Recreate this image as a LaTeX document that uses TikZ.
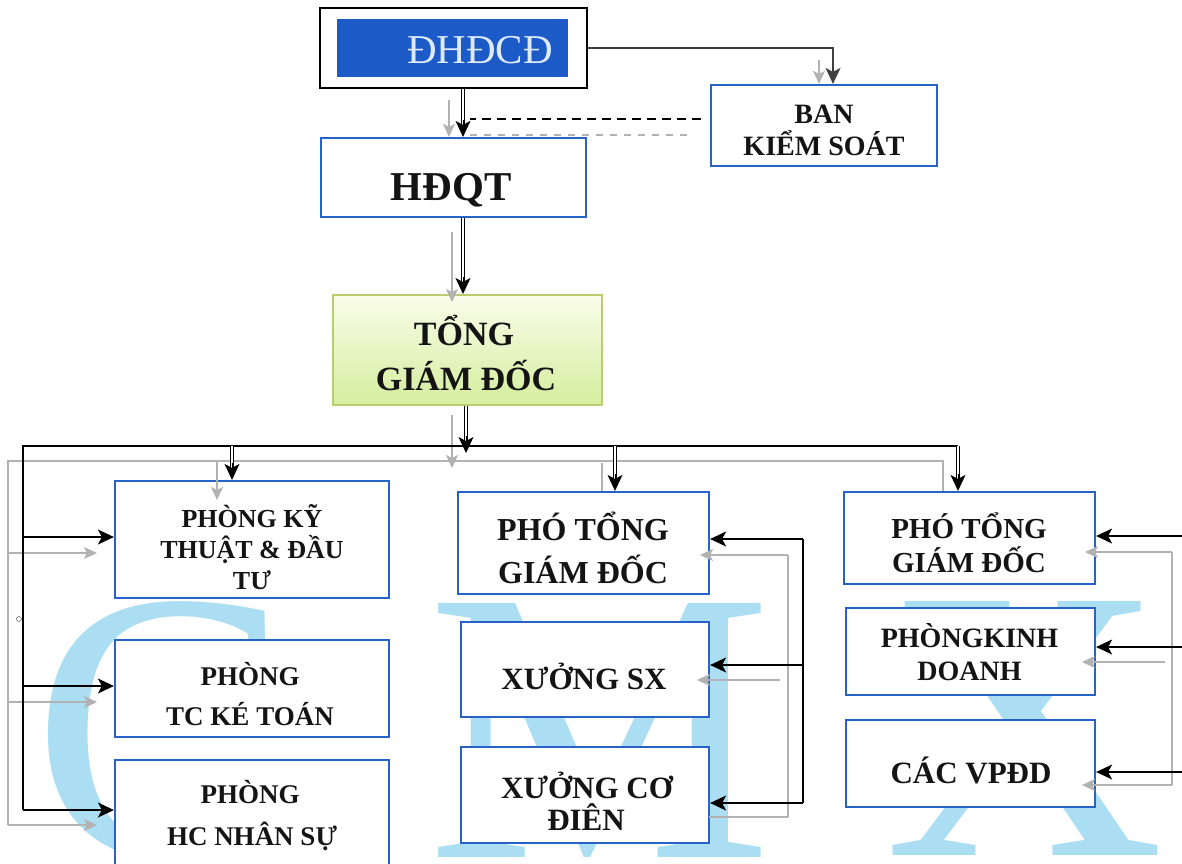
\documentclass[tikz,border=0pt]{standalone}
\usepackage{fontspec}
\setmainfont{Liberation Serif}
\usetikzlibrary{arrows.meta}
\definecolor{boxblue}{RGB}{38,98,200}
\definecolor{fillblue}{RGB}{28,90,200}
\definecolor{wmblue}{RGB}{172,222,243}
\definecolor{linegray}{RGB}{178,178,178}
\definecolor{tgdborder}{RGB}{185,205,110}
\definecolor{tgdtop}{RGB}{250,252,234}
\definecolor{tgdbot}{RGB}{212,238,158}
\definecolor{lighttext}{RGB}{222,234,250}
\newcommand\dblarr[2]{\draw[dbl, shorten >=10pt] (#1) -- (#2); \draw[dbltip] ([yshift=17pt]#2) -- (#2);}
\begin{document}
\begin{tikzpicture}[x=1pt,y=-1pt,
  box/.style={draw=boxblue, line width=2.2pt, fill=white, inner sep=0pt},
  txt/.style={anchor=base, inner sep=0pt, text=black!92},
  fs/.style={font=\fontsize{#1}{#1}\bfseries\selectfont},
  wm/.style={anchor=base, inner sep=0pt, text=wmblue, font=\fontsize{388}{388}\selectfont},
  blk/.style={draw=black, line width=1.6pt},
  blkarrow/.style={blk, -{Stealth[length=16pt,width=15pt,inset=4pt]}},
  dbl/.style={draw=black, double=white, double distance=2.6pt, line width=1.1pt},
  dbltip/.style={draw=black, line width=1pt, -{Stealth[length=16pt,width=15pt,inset=4pt]}},
  gry/.style={draw=linegray, line width=1.2pt},
  gryarrow/.style={gry, -{Stealth[length=13pt,width=12pt,inset=3pt]}},
]
\useasboundingbox (0,0) rectangle (1182,863);

% watermark
\node[wm] (wmC) at (162,858) {C};
\node[wm] (wmM) at (600,857) {M};
\node[wm] (wmX) at (1025,855) {X};

% top boxes
\node[box, draw=black, minimum width=267pt, minimum height=80pt] (dhdcd) at (453.5,48) {};
\node[fill=fillblue, inner sep=0pt, minimum width=231pt, minimum height=58pt] (dhdcdin) at (452.5,48) {};
\node[txt, text=lighttext, font=\fontsize{41}{41}\selectfont] (dhdcdt) at (480,63) {ĐHĐCĐ};

\node[box, minimum width=226pt, minimum height=81pt] (bks) at (824,125.5) {};
\node[txt, fs=28] (bks1) at (824,123) {BAN};
\node[txt, fs=28] (bks2) at (824,155) {KIỂM SOÁT};

\node[box, minimum width=265pt, minimum height=79pt] (hdqt) at (453.5,177.5) {};
\node[txt, fs=41] (hdqtt) at (451,200) {HĐQT};

\node[draw=tgdborder, line width=2pt, top color=tgdtop, bottom color=tgdbot, inner sep=0pt, minimum width=269pt, minimum height=110pt] (tgd) at (467.5,350) {};
\node[txt, fs=34] (tgd1) at (464,345) {TỔNG};
\node[txt, fs=34] (tgd2) at (466,390) {GIÁM ĐỐC};

% left column
\node[box, minimum width=274pt, minimum height=117pt] (kt) at (252,539.5) {};
\node[txt, fs=26] (kt1) at (252,527) {PHÒNG KỸ};
\node[txt, fs=26] (kt2) at (252,558) {THUẬT \& ĐẦU};
\node[txt, fs=26] (kt3) at (252,589) {TƯ};

\node[box, minimum width=274pt, minimum height=97pt] (tc) at (252,688.5) {};
\node[txt, fs=27] (tc1) at (250,685) {PHÒNG};
\node[txt, fs=27] (tc2) at (250,725) {TC KÉ TOÁN};

\node[box, minimum width=274pt, minimum height=130pt] (hc) at (252,825) {};
\node[txt, fs=27] (hc1) at (250,803) {PHÒNG};
\node[txt, fs=27] (hc2) at (252,845) {HC NHÂN SỰ};

% middle column
\node[box, minimum width=251pt, minimum height=102pt] (pt1) at (583.5,543) {};
\node[txt, fs=32] (pt1a) at (583,540) {PHÓ TỔNG};
\node[txt, fs=32] (pt1b) at (583,583) {GIÁM ĐỐC};

\node[box, minimum width=248pt, minimum height=95pt] (sx) at (585,669.5) {};
\node[txt, fs=31] (sxt) at (584,689) {XƯỞNG SX};

\node[box, minimum width=248pt, minimum height=96pt] (cd) at (585,795) {};
\node[txt, fs=31] (cd1) at (587,798) {XƯỞNG CƠ};
\node[txt, fs=31] (cd2) at (586,830) {ĐIÊN};

% right column
\node[box, minimum width=251pt, minimum height=92pt] (pt2) at (969.5,538) {};
\node[txt, fs=29] (pt2a) at (969,538) {PHÓ TỔNG};
\node[txt, fs=29] (pt2b) at (969,572) {GIÁM ĐỐC};

\node[box, minimum width=249pt, minimum height=87pt] (kd) at (970.5,651.5) {};
\node[txt, fs=28] (kd1) at (969.5,647) {PHÒNGKINH};
\node[txt, fs=28] (kd2) at (969.5,680) {DOANH};

\node[box, minimum width=249pt, minimum height=87pt] (vp) at (970.5,763.5) {};
\node[txt, fs=31] (vpt) at (971,783) {CÁC VPĐD};

% ---- gray shadow connectors
\draw[gryarrow] (819,60) -- ([xshift=-5pt]bks.north);
\draw[gryarrow] (449,100) -- ([xshift=-4.5pt]hdqt.north);
\draw[gryarrow] (452,232) -- (452,302);
\draw[gryarrow] (452,415) -- (452,468);
\draw[gry, dashed, dash pattern=on 7pt off 7pt] (687,135) -- (467,135);
\coordinate (gbL) at (8,461);
\coordinate (gbR) at (943,461);
\draw[gry] (8,825) -- (gbL) -- (gbR) -- (gbR |- pt2.north);
\draw[gryarrow] (217,461) -- (217,500);
\draw[gry] (602,463) -- (602,491);
\draw[gryarrow] (8,553) -- (97,553);
\draw[gryarrow] (8,702) -- (97,702);
\draw[gryarrow] (8,825) -- (97,825);
\draw[gry] (788,555) -- (788,817);
\draw[gryarrow] (788,555) -- (700,555);
\draw[gryarrow] (780,680) -- (697,680);
\draw[gry] (788,817) -- (709,817);
\draw[gry] (1172,552) -- (1172,785);
\draw[gryarrow] (1172,552) -- (1085,552);
\draw[gryarrow] (1165,662) -- (1082,662);
\draw[gryarrow] (1172,785) -- (1082,785);

% ---- black connectors
\coordinate (kb) at ([xshift=9pt]bks.north);
\draw[draw=black!75, line width=1.1pt, -{Stealth[length=16pt,width=15pt,inset=4pt]}] (dhdcd.east) -| (kb);

\coordinate (a1) at ([xshift=9.5pt]dhdcd.south);
\coordinate (a2) at ([xshift=9.5pt]hdqt.north);
\dblarr{a1}{a2}
\coordinate (dashend) at (470,119);
\draw[draw=black, line width=1.7pt, dash pattern=on 9pt off 6pt] ([xshift=-9pt,yshift=6.5pt]bks.west) -- (dashend);

\coordinate (a3) at ([xshift=9.5pt]hdqt.south);
\coordinate (a4) at (a3 |- tgd.north);
\dblarr{a3}{a4}

\coordinate (a5) at ([xshift=-1.5pt]tgd.south);
\coordinate (a6) at (466,453);
\dblarr{a5}{a6}

\coordinate (busL) at (23,446);
\coordinate (busR) at (958,446);
\draw[blk] (23,810) -- (busL) -- (busR);
\coordinate (b3e) at (busR |- pt2.north);
\dblarr{busR}{b3e}
\coordinate (b1) at (232,446);
\coordinate (b1e) at (b1 |- kt.north);
\dblarr{b1}{b1e}
\coordinate (b2) at (615,446);
\coordinate (b2e) at (b2 |- pt1.north);
\dblarr{b2}{b2e}

\coordinate (l1) at (23,537);
\coordinate (l2) at (23,686);
\coordinate (l3) at (23,810);
\draw[blkarrow] (l1) -- (l1 -| kt.west);
\draw[blkarrow] (l2) -- (l2 -| tc.west);
\draw[blkarrow] (l3) -- (l3 -| hc.west);

\coordinate (m1) at (803,539);
\coordinate (m2) at (803,665);
\coordinate (m3) at (803,803);
\draw[blk] (m1) -- (m3);
\draw[blkarrow] (m1) -- (m1 -| pt1.east);
\draw[blkarrow] (m2) -- (m2 -| sx.east);
\draw[blkarrow] (m3) -- (m3 -| cd.east);

\coordinate (r1) at (1182,536);
\coordinate (r2) at (1182,647);
\coordinate (r3) at (1182,772);
\draw[blkarrow] (r1) -- (r1 -| pt2.east);
\draw[blkarrow] (r2) -- (r2 -| kd.east);
\draw[blkarrow] (r3) -- (r3 -| vp.east);

\draw[draw=black!60, line width=0.6pt] (19,619) circle (2.5pt);
\end{tikzpicture}
\end{document}
